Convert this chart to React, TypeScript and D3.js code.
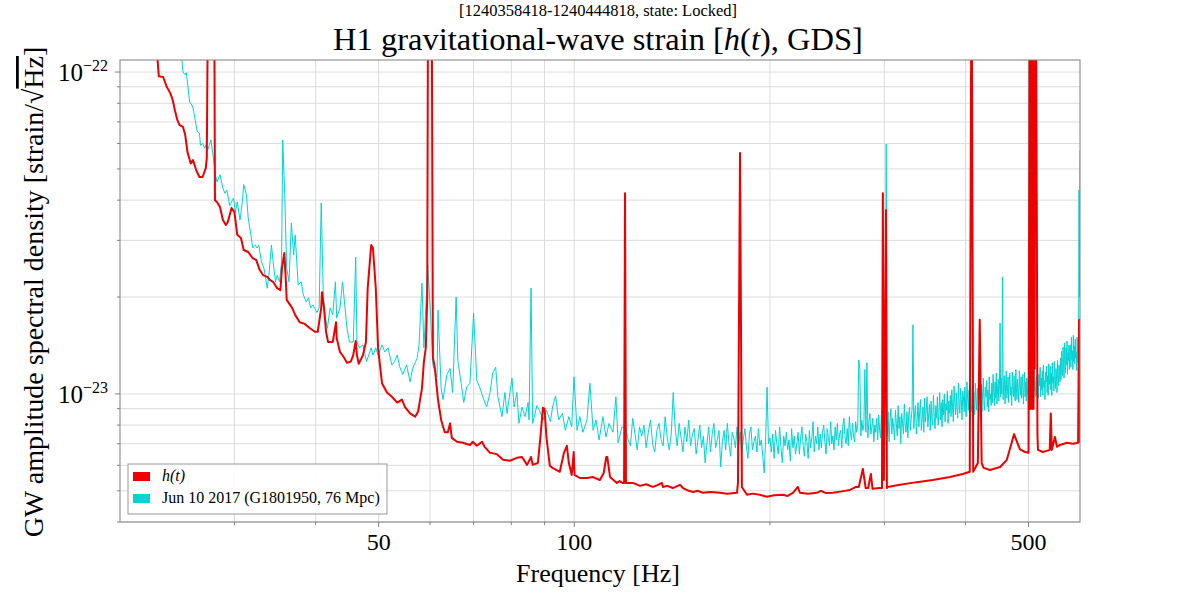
import * as d3 from 'd3';

// amplitude values are in units of 1e-24 strain/sqrt(Hz)
const hoftAsd: [number, number][] = [
  [22.8, 115], [22.95, 97], [23.3, 96.5], [23.6, 90], [23.9, 86], [24.1, 82], [24.3, 76], [24.5, 71],
  [24.7, 68.4], [25.0, 67.5], [25.2, 63.7], [25.4, 56.4], [25.7, 52], [25.9, 53.3], [26.2, 49.6],
  [26.5, 47.2], [26.8, 47.2], [27.1, 50.3], [27.2, 54], [27.3, 150], [27.4, 300], [27.9, 300], [28.0, 40],
  [28.2, 39.5], [28.5, 38.1], [28.8, 34.7], [29.1, 33.5], [29.3, 34.2], [29.7, 37.8], [30.0, 36.7],
  [30.3, 31.2], [30.7, 30.5], [31.0, 28], [31.5, 27.6], [32.0, 26.4], [32.4, 26.1], [32.8, 24.3],
  [33.2, 23.4], [33.7, 23.1], [34.0, 22.6], [34.4, 22.3], [34.9, 21.3], [35.3, 21], [35.5, 24.6],
  [35.8, 27.4], [36.0, 22.3], [36.1, 19.6], [36.8, 18.5], [37.2, 17.6], [37.8, 16.7], [38.5, 16.5],
  [39.2, 16], [39.9, 15.6], [40.3, 15.6], [40.8, 18.5], [40.9, 20.7], [41.2, 18.5], [41.5, 15.6],
  [41.8, 14.5], [42.5, 14.5], [43.0, 16.7], [43.1, 14.9], [43.6, 13.5], [44.2, 13], [44.7, 12.5],
  [45.3, 12.6], [45.7, 13.2], [46.1, 14.6], [46.3, 13.2], [46.6, 12.4], [47.3, 13.2], [47.8, 14.5],
  [48.1, 21.3], [48.7, 29], [49.0, 28.4], [49.5, 21.3], [49.9, 13.9], [50.6, 10.8], [51.5, 10.1],
  [52.4, 9.8], [53.4, 9.4], [54.3, 9.6], [54.9, 9.1], [55.9, 8.7], [56.9, 8.5], [57.5, 8.8],
  [58.3, 10.4], [58.7, 12.6], [59.1, 13.9], [59.4, 20], [59.6, 300], [60.3, 300], [60.6, 13],
  [61.0, 12.1], [61.7, 9.6], [62.4, 8.3], [63.2, 7.6], [63.9, 7.6], [64.4, 8.1], [64.8, 7.3],
  [66.0, 7.1], [67.4, 7.05], [69.1, 6.94], [69.8, 7.1], [70.8, 6.9], [72.1, 7.1], [72.8, 6.85],
  [74.2, 6.56], [76.0, 6.5], [77.7, 6.24], [79.6, 6.2], [81.6, 6.33], [83.1, 6.37], [84.6, 6.02],
  [85.8, 6.37], [86.3, 6.02], [87.9, 6.1], [88.7, 7.35], [89.5, 9.05], [90.0, 9.0], [90.6, 7.35],
  [91.7, 5.98], [92.6, 5.89], [95.0, 5.73], [96.4, 6.56], [97.4, 6.9], [98.1, 6.1], [99.1, 5.6],
  [99.8, 6.6], [100.1, 5.6], [102, 5.48], [104.6, 5.48], [106.8, 5.52], [109.5, 5.4], [111, 5.68],
  [112, 6.37], [112.4, 6.37], [113.5, 5.52], [116.3, 5.29], [117.4, 5.36], [118.6, 5.29],
  [119.3, 5.29], [119.7, 42], [120.1, 5.29], [121, 5.29], [123.1, 5.29], [126.2, 5.18], [129, 5.24],
  [132.1, 5.14], [134, 5.2], [136.4, 5.29], [136.9, 5.14], [139, 5.18], [141.8, 5.1], [145.4, 5.22],
  [147, 5.1], [150, 5.0], [152.3, 4.96], [155, 5.0], [157.7, 4.93], [162, 4.96], [167.5, 4.93],
  [172, 4.9], [178, 4.93], [178.6, 5.3], [179.9, 56], [181.1, 5.14], [184.4, 4.86], [188, 4.9],
  [193, 4.86], [197.8, 4.79], [203, 4.84], [209.4, 4.86], [213, 4.82], [217, 4.93], [220.8, 5.14],
  [222.4, 4.93], [229, 4.9], [236.2, 4.93], [239.6, 5.0], [244, 4.92], [250, 4.93], [258, 4.98],
  [265.6, 5.03], [271.3, 5.14], [274, 5.14], [278, 5.85], [280.8, 5.1], [283.3, 5.1], [286, 5.64],
  [287.7, 5.07], [295, 5.1], [297.5, 5.1], [298.4, 42], [299.5, 5.4], [301.8, 37.3], [302.7, 5.1],
  [303.6, 5.14], [317, 5.22], [336.6, 5.32], [356, 5.4], [378.4, 5.52], [396, 5.64], [406, 5.73],
  [408.6, 300], [411, 5.73], [417.8, 6.1], [420.6, 17], [423.5, 6.1], [426.4, 5.89], [436, 5.8],
  [452, 5.93], [463, 6.24], [471, 7.05], [475, 7.5], [480, 7.1], [485, 6.73], [494, 6.6], [500, 6.56],
  [501.4, 57], [502, 300], [503, 9], [504, 300], [505, 9], [506, 300], [507, 9], [508, 300], [509, 9],
  [510, 300], [511, 12], [512, 300], [513, 300], [515, 30.5], [516, 7.5], [517, 6.7], [526, 6.6],
  [539, 6.7], [541, 8.7], [543, 6.7], [549, 7.35], [553, 6.85], [559, 6.94], [573, 7.05], [585, 7.0],
  [596, 7.05], [598, 17], [600, 7.05],
];

// reference curve below 120 Hz
const referenceLowAsd: [number, number][] = [
  [24.8, 120], [25.0, 100], [25.2, 98], [25.3, 99.5], [25.6, 80.7], [25.8, 79], [25.9, 77.5],
  [26.3, 65.3], [26.5, 64.6], [26.6, 59.2], [26.8, 60], [27.0, 58], [27.1, 59.3], [27.3, 57.3],
  [27.6, 61.5], [27.8, 55.5], [28.0, 49], [28.2, 45.5], [28.5, 48], [28.8, 43.6], [29.0, 42],
  [29.2, 43], [29.5, 38.5], [29.9, 40.6], [30.1, 36.7], [30.3, 39.5], [30.6, 34.7], [30.85, 39.5],
  [31.0, 44.7], [31.3, 41.6], [31.5, 35.2], [31.8, 31.2], [32.0, 28.4], [32.3, 29], [32.5, 28.4],
  [32.7, 29], [33.0, 25.8], [33.3, 24.6], [33.7, 21.3], [33.9, 23.4], [34.2, 29], [34.4, 25.8],
  [34.7, 22.3], [34.9, 23.4], [35.2, 22.3], [35.45, 25.8], [35.6, 61.5], [35.85, 41.6], [36.1, 24.6],
  [36.4, 22.3], [36.7, 34], [37.0, 27], [37.2, 31.2], [37.5, 23.9], [37.6, 21.8], [38.0, 22.3],
  [38.3, 20.3], [38.7, 19.3], [39.0, 19.9], [39.3, 18.5], [39.6, 18.9], [40.2, 17.9], [40.5, 18.5],
  [40.8, 39.2], [41.1, 20.3], [41.4, 17.2], [41.7, 16], [42.1, 18.5], [42.5, 17.6], [42.9, 22.3],
  [43.1, 17.2], [43.6, 18.5], [44.0, 22.3], [44.7, 16], [45.1, 14.5], [45.7, 14.5], [46.1, 26.6],
  [46.3, 14.5], [46.7, 13.9], [47.3, 14.2], [47.9, 12.6], [48.7, 13.9], [49.0, 13.2], [49.5, 13.9],
  [49.9, 13.2], [50.6, 14.2], [51.1, 13.5], [51.7, 13.9], [52.4, 12.3], [52.9, 12.6], [53.4, 13.2],
  [53.9, 12.1], [54.5, 11.5], [55.2, 12.3], [55.9, 10.9], [56.4, 12], [57.3, 12.9], [57.7, 14.2],
  [58.3, 22.1], [58.7, 13.9], [59.1, 18.5], [59.5, 25.2], [60.1, 17.6], [60.6, 12.3], [61.5, 11.3],
  [61.7, 18.2], [62.4, 10.4], [62.8, 9.6], [63.7, 11.5], [64.4, 12], [65.0, 10.1], [65.8, 20],
  [66.2, 12.7], [67.2, 10.3], [67.6, 9.4], [68.3, 10.5], [69.1, 10.8], [70.0, 17.8], [70.8, 11],
  [71.5, 10.5], [72.3, 9.8], [73.3, 9.1], [74.2, 10.1], [74.9, 11.6], [75.7, 12.1], [76.3, 9.8],
  [77.4, 8.5], [78.2, 10.1], [78.8, 8.7], [80.2, 11.2], [80.8, 9.1], [81.6, 10.1], [82.2, 8.1],
  [83.1, 9.1], [84.0, 8.5], [84.9, 9.4], [85.2, 8.3], [85.8, 21.3], [86.3, 8.1], [87.6, 9.2],
  [88.4, 8.9], [89.5, 8.3], [90.6, 8.9], [91.9, 8.2], [92.6, 9.1], [93.6, 9.86], [94.6, 8.3],
  [95.9, 8.7], [96.9, 7.7], [98.1, 8.5], [99.1, 7.9], [99.9, 11.3], [101, 7.7], [102, 8.5],
  [103.1, 7.6], [104.6, 8.3], [105.7, 10.8], [106.9, 7.7], [108, 8.3], [109.2, 7.2], [110.7, 8.5],
  [111.9, 7.35], [113.1, 8.1], [114.7, 7.6], [115.9, 9.8], [116.8, 7.05], [118.4, 7.9],
];

// reference curve from 120 Hz to 600 Hz, one value every 1 Hz
const referenceBandStartHz = 120;
const referenceBandStepHz = 1;
const referenceBandAsd = [
  7.8, 7.2, 6.9, 8.4, 7.5, 6.7, 7.9, 7.4, 8.0, 6.8, // 120
  7.6, 8.3, 7.0, 6.6, 7.7, 8.1, 7.2, 6.9, 8.5, 7.3, // 130
  6.7, 7.5, 10.1, 7.8, 6.9, 8.1, 7.3, 6.6, 7.9, 7.1, // 140
  8.3, 6.9, 7.5, 7.8, 6.5, 7.2, 8.0, 6.8, 7.4, 6.1, // 150
  7.0, 7.9, 6.6, 7.5, 8.1, 6.8, 7.2, 7.7, 5.93, 7.1, // 160
  7.7, 6.7, 8.1, 7.0, 6.4, 7.6, 7.3, 6.8, 7.9, 6.9, // 170
  7.6, 6.5, 7.2, 7.8, 6.9, 6.3, 7.5, 7.9, 6.7, 7.1, // 180
  7.4, 6.6, 7.8, 6.9, 7.2, 6.4, 5.68, 7.3, 10.5, 7.0, // 190
  7.3, 6.6, 7.5, 6.3, 7.7, 7.0, 6.5, 7.9, 6.8, 6.1, // 200
  7.4, 6.9, 7.6, 6.7, 7.2, 6.2, 7.8, 6.8, 7.4, 6.5, // 210
  7.0, 7.6, 6.5, 7.3, 7.9, 6.9, 6.4, 7.5, 7.1, 6.3, // 220
  7.7, 6.8, 7.3, 8.2, 6.6, 7.4, 7.0, 7.9, 6.7, 7.5, // 230
  6.8, 7.6, 8.0, 7.1, 6.5, 7.8, 7.3, 6.9, 8.2, 7.0, // 240
  7.4, 6.7, 7.9, 7.2, 8.1, 6.9, 7.5, 7.7, 6.8, 8.0, // 250
  8.4, 7.3, 7.0, 7.8, 6.9, 8.5, 7.6, 7.2, 8.1, 7.4, // 260
  7.1, 8.2, 7.6, 8.0, 12.75, 12.0, 7.4, 8.3, 7.7, 8.0, // 270
  11.9, 7.6, 12.5, 7.3, 8.2, 8.7, 7.5, 7.9, 8.4, 7.1, // 280
  8.0, 7.6, 8.4, 7.2, 8.6, 7.7, 7.3, 8.9, 7.8, 8.2, // 290
  7.6, 8.3, 59.7, 7.4, 8.8, 7.1, 8.2, 9.0, 7.5, 8.4, // 300
  7.9, 7.2, 8.9, 8.1, 7.4, 9.2, 7.8, 8.5, 7.0, 8.7, // 310
  8.1, 7.5, 9.3, 8.0, 7.6, 8.8, 7.3, 8.6, 9.1, 7.7, // 320
  8.4, 9.0, 16.4, 7.8, 8.7, 9.2, 7.5, 8.3, 9.4, 7.9, // 330
  8.8, 9.6, 7.7, 8.4, 9.1, 7.6, 9.7, 8.2, 8.9, 9.8, // 340
  7.9, 8.6, 9.3, 7.7, 9.5, 8.3, 8.0, 9.9, 8.5, 7.8, // 350
  9.2, 8.4, 9.8, 8.0, 8.7, 10.1, 8.3, 9.4, 7.9, 9.6, // 360
  8.6, 10.0, 8.2, 9.3, 8.9, 10.2, 8.1, 9.5, 8.7, 9.9, // 370
  8.5, 10.3, 9.1, 8.2, 10.6, 9.4, 8.6, 10.1, 9.0, 8.4, // 380
  10.8, 9.3, 8.7, 10.4, 9.6, 8.3, 10.2, 9.8, 8.8, 10.5, // 390
  9.1, 8.5, 10.9, 9.7, 8.9, 10.3, 8.4, 11.0, 9.4, 8.8, // 400
  10.6, 9.2, 10.1, 8.6, 10.8, 9.5, 8.9, 10.4, 9.9, 8.7, // 410
  11.1, 9.6, 9.0, 10.7, 8.8, 10.2, 11.2, 9.3, 8.9, 10.5, // 420
  9.8, 11.0, 9.1, 10.3, 8.8, 11.3, 9.6, 10.0, 9.2, 10.8, // 430
  9.4, 11.5, 10.1, 9.2, 10.9, 9.7, 11.6, 9.3, 10.4, 11.1, // 440
  9.5, 10.6, 16.6, 9.8, 11.2, 10.0, 23.1, 9.6, 10.8, 11.4, // 450
  9.3, 10.7, 11.8, 9.7, 10.2, 11.3, 9.4, 10.9, 11.6, 9.9, // 460
  10.5, 9.2, 11.7, 10.3, 9.8, 11.4, 10.0, 9.5, 11.9, 10.4, // 470
  9.6, 11.1, 10.2, 9.4, 11.8, 10.6, 9.9, 11.3, 9.7, 10.8, // 480
  11.5, 9.3, 10.4, 11.7, 9.8, 10.9, 9.5, 11.2, 10.1, 9.9, // 490
  8.6, 110, 110, 10.5, 11.8, 9.7, 10.8, 11.4, 9.6, 11.0, // 500
  10.2, 11.9, 9.8, 10.7, 11.3, 9.9, 12.0, 10.4, 9.7, 11.5, // 510
  10.6, 12.1, 9.8, 11.2, 10.3, 11.8, 9.9, 12.3, 10.5, 11.0, // 520
  9.6, 11.7, 10.9, 12.2, 10.1, 11.4, 9.9, 12.4, 10.7, 11.1, // 530
  12.2, 10.3, 11.6, 9.9, 12.5, 10.8, 11.3, 10.2, 12.6, 11.0, // 540
  10.4, 12.0, 11.5, 10.1, 12.7, 11.2, 10.6, 12.3, 11.8, 10.9, // 550
  12.9, 11.1, 13.6, 12.0, 11.4, 14.0, 12.5, 11.2, 14.4, 12.8, // 560
  11.6, 13.9, 12.3, 14.6, 11.5, 13.4, 12.7, 14.2, 11.9, 13.7, // 570
  14.2, 12.1, 15.0, 12.8, 13.6, 11.9, 15.2, 12.6, 14.1, 12.4, // 580
  14.8, 12.9, 13.5, 11.8, 15.0, 13.2, 12.5, 14.6, 43, 20, // 590
  57, // 600
];

const xMajor = [50, 100, 500];
const xMinor = [30, 40, 60, 70, 80, 90, 200, 300, 400];
const yMajor = [10, 100];
const yMajorExp = ['−23', '−22'];
const yMinor = [4, 5, 6, 7, 8, 9, 20, 30, 40, 50, 60, 70, 80, 90];

const RED = '#ee0000';
const CYAN = '#00d4d4';
const FONT = '"Liberation Serif", "DejaVu Serif", serif';

export default function App() {
  const margin = { top: 60, right: 120, bottom: 78, left: 120 };
  const width = 1200;
  const height = 600;

  const x = d3.scaleLog().domain([20, 600]).range([margin.left, width - margin.right]);
  const y = d3.scaleLog().domain([4, 109]).range([height - margin.bottom, margin.top]);

  const line = d3.line<[number, number]>()
    .x(d => x(d[0]))
    .y(d => y(d[1]));

  // evenly sampled part: frequency of value i is f0 + i * df
  const reference: [number, number][] = [
    ...referenceLowAsd,
    ...referenceBandAsd.map((v, i) => [referenceBandStartHz + i * referenceBandStepHz, v] as [number, number]),
  ];

  const [x0, x1] = x.range();
  const [y0, y1] = y.range();

  return (
    <svg width={width} height={height} style={{ position: 'absolute', left: 0, top: 0, background: '#fff' }} fontFamily={FONT}>
      <defs>
        <clipPath id="plot-area">
          <rect x={x0} y={y1} width={x1 - x0} height={y0 - y1} />
        </clipPath>
      </defs>

      {/* grid */}
      <g stroke="#dcdcdc" strokeWidth={1}>
        {[...xMajor, ...xMinor].map(f => (
          <line key={'gx' + f} x1={x(f)} x2={x(f)} y1={y1} y2={y0} />
        ))}
        {[...yMajor, ...yMinor].map(v => (
          <line key={'gy' + v} x1={x0} x2={x1} y1={y(v)} y2={y(v)} />
        ))}
      </g>

      {/* series */}
      <g clipPath="url(#plot-area)" fill="none" strokeLinejoin="round">
        <path d={line(reference) ?? ''} stroke={CYAN} strokeWidth={1} />
        <path d={line(hoftAsd) ?? ''} stroke={RED} strokeWidth={2} />
      </g>

      {/* frame */}
      <rect x={x0} y={y1} width={x1 - x0} height={y0 - y1} fill="none" stroke="#808080" strokeWidth={1} />

      {/* ticks */}
      <g stroke="#808080" strokeWidth={1}>
        {xMajor.map(f => <line key={'tx' + f} x1={x(f)} x2={x(f)} y1={y0} y2={y0 + 5} />)}
        {xMinor.map(f => <line key={'tmx' + f} x1={x(f)} x2={x(f)} y1={y0} y2={y0 + 3} />)}
        {yMajor.map(v => <line key={'ty' + v} x1={x0 - 5} x2={x0} y1={y(v)} y2={y(v)} />)}
        {yMinor.map(v => <line key={'tmy' + v} x1={x0 - 3} x2={x0} y1={y(v)} y2={y(v)} />)}
      </g>

      {/* tick labels */}
      <g fill="#000" fontSize={24}>
        {xMajor.map(f => (
          <text key={'lx' + f} x={x(f)} y={y0 + 28} textAnchor="middle">{f}</text>
        ))}
        {yMajor.map((v, i) => (
          <text key={'ly' + v} x={x0 - 12} y={y(v) + 9} textAnchor="end" fontSize={25}>
            10<tspan fontSize={16} dy={-10}>{yMajorExp[i]}</tspan>
          </text>
        ))}
      </g>

      {/* titles */}
      <text x={598} y={16} textAnchor="middle" fontSize={16.5}>[1240358418-1240444818, state: Locked]</text>
      <text x={598} y={50} textAnchor="middle" fontSize={32.5}>
        H1 gravitational-wave strain [<tspan fontStyle="italic">h</tspan>(<tspan fontStyle="italic">t</tspan>), GDS]
      </text>
      <text x={598} y={582} textAnchor="middle" fontSize={26}>Frequency [Hz]</text>
      <text transform="translate(43,292) rotate(-90)" textAnchor="middle" fontSize={28}>
        GW amplitude spectral density [strain/√<tspan textDecoration="overline">Hz</tspan>]
      </text>

      {/* legend */}
      <g>
        <rect x={128} y={464} width={259} height={50} fill="#fff" fillOpacity={0.85} stroke="#999" strokeWidth={1} />
        <rect x={133} y={472} width={17} height={9} fill={RED} />
        <rect x={133} y={494} width={17} height={9} fill={CYAN} />
        <text x={162} y={481} fontSize={16} fontStyle="italic">h(t)</text>
        <text x={162} y={503} fontSize={16}>Jun 10 2017 (G1801950, 76 Mpc)</text>
      </g>
    </svg>
  );
}
